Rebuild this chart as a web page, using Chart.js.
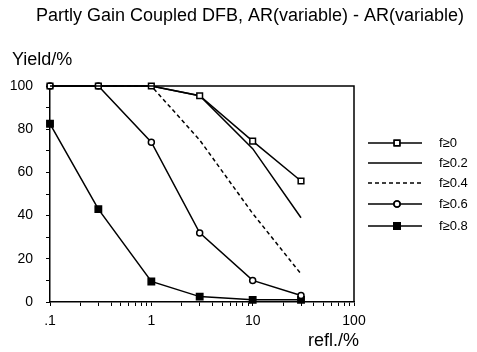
<!DOCTYPE html>
<html>
<head>
<meta charset="utf-8">
<script src="https://cdn.jsdelivr.net/npm/chart.js@4"></script>
<style>
  body { margin: 0; background: #fff; }
  canvas { display: block; }
</style>
</head>
<body>
<canvas id="yieldChart" width="477" height="352"></canvas>
<script>
// values
const refl = [0.1, 0.3, 1, 3, 10, 30];
const yieldF00 = [100, 100, 100, 95.5, 74.5, 56];
const yieldF02 = [100, 100, 100, 95.5, 71, 39];
const yieldF04 = [100, 100, 100, 75, 41, 13];
const yieldF06 = [100, 100, 74, 32, 10, 3];
const yieldF08 = [82.5, 43, 9.5, 2.5, 1, 1];
const seriesNames = ['f≥0', 'f≥0.2', 'f≥0.4', 'f≥0.6', 'f≥0.8'];
const xTickValues = [0.1, 0.2, 0.3, 0.4, 0.5, 0.6, 0.7, 0.8, 0.9, 1, 2, 3, 4, 5, 6, 7, 8, 9, 10, 20, 30, 40, 50, 60, 70, 80, 90, 100];
const xTickLabels = { 0.1: '.1', 1: '1', 10: '10', 100: '100' };

const FONT = 'Liberation Sans, Arial, Helvetica, sans-serif';

function pts(values) {
    return values.map((v, i) => ({ x: refl[i], y: v }));
}

const datasets = [
    { label: seriesNames[0], data: pts(yieldF00), pointStyle: 'rect', pointRadius: 4, backgroundColor: '#fff', borderDash: [] },
    { label: seriesNames[1], data: pts(yieldF02), pointStyle: false, pointRadius: 0, backgroundColor: '#fff', borderDash: [] },
    { label: seriesNames[2], data: pts(yieldF04), pointStyle: false, pointRadius: 0, backgroundColor: '#fff', borderDash: [4, 3] },
    { label: seriesNames[3], data: pts(yieldF06), pointStyle: 'circle', pointRadius: 3, backgroundColor: '#fff', borderDash: [] },
    { label: seriesNames[4], data: pts(yieldF08), pointStyle: 'rect', pointRadius: 4.5, backgroundColor: '#000', borderDash: [] },
].map(d => Object.assign(d, {
    borderColor: '#000',
    borderWidth: 1.5,
    pointBorderWidth: 1.5,
    pointBorderColor: '#000',
    pointBackgroundColor: d.backgroundColor,
    tension: 0,
    clip: false,
}));

// title, axis captions, frame and the side legend
const decorPlugin = {
    id: 'decor',
    afterDraw(chart) {
        const ctx = chart.ctx;
        const area = chart.chartArea;
        ctx.save();
        ctx.strokeStyle = '#000';
        ctx.lineWidth = 1.5;
        ctx.beginPath();
        ctx.moveTo(area.left, area.top);
        ctx.lineTo(area.right, area.top);
        ctx.lineTo(area.right, area.bottom);
        ctx.stroke();

        ctx.fillStyle = '#000';
        ctx.textBaseline = 'alphabetic';
        ctx.font = '18px ' + FONT;
        ctx.textAlign = 'center';
        ctx.fillText('Partly Gain Coupled DFB, AR(variable) - AR(variable)', 250, 21);
        ctx.textAlign = 'left';
        ctx.fillText('Yield/%', 12, 65);
        ctx.fillText('refl./%', 308, 346);

        // legend
        const ys = [143, 163, 183, 204, 226];
        ctx.font = '13px ' + FONT;
        ctx.textBaseline = 'middle';
        chart.data.datasets.forEach((ds, i) => {
            const y = ys[i];
            ctx.lineWidth = ds.borderWidth;
            ctx.setLineDash(ds.borderDash);
            ctx.beginPath();
            ctx.moveTo(368, y);
            ctx.lineTo(422, y);
            ctx.stroke();
            ctx.setLineDash([]);
            if (ds.pointStyle) {
                ctx.fillStyle = ds.pointBackgroundColor;
                ctx.lineWidth = ds.pointBorderWidth;
                Chart.helpers.drawPoint(ctx, { pointStyle: ds.pointStyle, radius: ds.pointRadius, borderWidth: ds.pointBorderWidth, rotation: 0 }, 397, y);
                ctx.fill();
                ctx.stroke();
            }
            ctx.fillStyle = '#000';
            ctx.fillText(ds.label, 439, y);
        });
        ctx.restore();
    }
};

new Chart(document.getElementById('yieldChart'), {
    type: 'line',
    data: { datasets: datasets },
    plugins: [decorPlugin],
    options: {
        responsive: false,
        animation: false,
        layout: { padding: { left: 0, top: 86, right: 123, bottom: 0 } },
        plugins: { legend: { display: false }, tooltip: { enabled: false }, title: { display: false } },
        scales: {
            x: {
                type: 'logarithmic',
                min: 0.1,
                max: 100,
                afterBuildTicks: (scale) => { scale.ticks = xTickValues.map(v => ({ value: v })); },
                afterFit: (scale) => { scale.height = 50; },
                ticks: {
                    autoSkip: false,
                    maxRotation: 0,
                    padding: 7,
                    color: '#000',
                    font: { family: FONT, size: 14 },
                    callback: (v) => xTickLabels[v] !== undefined ? xTickLabels[v] : '',
                },
                grid: { drawOnChartArea: false, drawTicks: true, tickLength: 4, color: '#000', lineWidth: 1 },
                border: { display: true, color: '#000', width: 1.5 },
            },
            y: {
                min: 0,
                max: 100,
                afterFit: (scale) => { scale.width = 50; },
                ticks: {
                    stepSize: 10,
                    padding: 13,
                    color: '#000',
                    font: { family: FONT, size: 14 },
                    callback: (v) => v % 20 === 0 ? String(v) : '',
                },
                grid: { drawOnChartArea: false, drawTicks: true, tickLength: 4, color: '#000', lineWidth: 1 },
                border: { display: true, color: '#000', width: 1.5 },
            },
        },
    },
});
</script>
</body>
</html>
